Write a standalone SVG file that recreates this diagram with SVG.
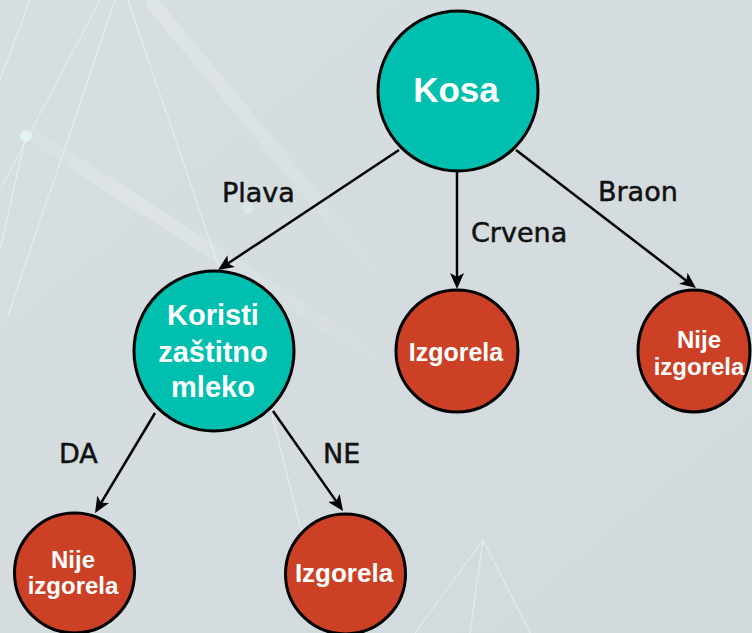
<svg xmlns="http://www.w3.org/2000/svg" width="752" height="633" viewBox="0 0 752 633">
  <defs>
    <linearGradient id="bg" x1="0" y1="0" x2="1" y2="1">
      <stop offset="0" stop-color="#d6dee1"/>
      <stop offset="1" stop-color="#d3dadd"/>
    </linearGradient>
    <linearGradient id="band" x1="0" y1="0" x2="1" y2="0">
      <stop offset="0" stop-color="#ffffff" stop-opacity="0.0"/>
      <stop offset="0.3" stop-color="#ffffff" stop-opacity="0.35"/>
      <stop offset="1" stop-color="#ffffff" stop-opacity="0.0"/>
    </linearGradient>
    <linearGradient id="band2" x1="0" y1="0" x2="1" y2="1">
      <stop offset="0" stop-color="#ffffff" stop-opacity="0.2"/>
      <stop offset="0.6" stop-color="#ffffff" stop-opacity="0.12"/>
      <stop offset="1" stop-color="#ffffff" stop-opacity="0.0"/>
    </linearGradient>
    <marker id="arr" viewBox="0 0 16 14" refX="10" refY="7" markerWidth="16" markerHeight="14" markerUnits="userSpaceOnUse" orient="auto">
      <path d="M0,0 L16,7 L0,14 L4,7 Z" fill="#000"/>
    </marker>
    <style>
      .deco { stroke: #eef8f7; fill: none; stroke-width: 1; opacity: 0.7; }
      .dec { fill: #111; stroke: #111; stroke-width: 0.5; font-family: "DejaVu Sans", sans-serif; font-size: 27px; }
      .edge { stroke: #000; stroke-width: 2.5; fill: none; marker-end: url(#arr); }
      .q { fill: #00bfae; stroke: #000; stroke-width: 3; }
      .leaf { fill: #cc4125; stroke: #000; stroke-width: 3; }
      .t { fill: #fff; font-family: "Liberation Sans", Arial, sans-serif; font-weight: bold; text-anchor: middle; }
    </style>
  </defs>

  <rect width="752" height="633" fill="url(#bg)"/>
  <g id="background">
    <path d="M0,115 L420,385" stroke="url(#band)" stroke-width="14" fill="none" opacity="0.6"/>
    <path d="M150,0 L390,290" stroke="url(#band2)" stroke-width="14" fill="none"/>
    <path class="deco" d="M30,0 L0,80"/>
    <path class="deco" d="M100,0 L0,190"/>
    <path class="deco" d="M115,0 L8,316"/>
    <path class="deco" d="M128,0 L218,265"/>
    <path class="deco" d="M0,250 L26,135"/>
    <circle cx="26" cy="136" r="6" fill="#e6fbf8" opacity="0.7"/>
    <circle cx="248" cy="208" r="6" fill="#e6fbf8" opacity="0.35"/>
    <path class="deco" d="M272,415 L320,605" opacity="0.35"/>
    <path class="deco" d="M483,540 L415,633 M483,540 L470,633 M483,540 L530,633" opacity="0.2"/>
  </g>

  <g id="connectors">
    <line class="edge" x1="399" y1="150" x2="223" y2="266.7"/>
    <line class="edge" x1="457" y1="172" x2="457" y2="283"/>
    <line class="edge" x1="516" y1="150" x2="691.2" y2="284.4"/>
    <line class="edge" x1="155" y1="413" x2="98.1" y2="507.9"/>
    <line class="edge" x1="273" y1="411" x2="339.6" y2="506.1"/>
  </g>

  <g id="edge-labels">
    <text class="dec" x="222" y="202">Plava</text>
    <text class="dec" x="471" y="242">Crvena</text>
    <text class="dec" x="598" y="201">Braon</text>
    <text class="dec" x="59" y="463">DA</text>
    <text class="dec" x="323" y="463">NE</text>
  </g>

  <g id="node-kosa">
    <circle class="q" cx="458" cy="91" r="80"/>
    <text class="t" x="456" y="102" font-size="35">Kosa</text>
  </g>

  <g id="node-koristi">
    <circle class="q" cx="214" cy="351" r="80"/>
    <text class="t" x="213" y="325" font-size="29">Koristi</text>
    <text class="t" x="213" y="362" font-size="29">zaštitno</text>
    <text class="t" x="213" y="397" font-size="29">mleko</text>
  </g>

  <g id="node-izgorela-1">
    <circle class="leaf" cx="457" cy="351" r="61"/>
    <text class="t" x="456" y="361" font-size="25">Izgorela</text>
  </g>

  <g id="node-nije-izgorela-1">
    <ellipse class="leaf" cx="694" cy="351" rx="56" ry="61"/>
    <text class="t" x="699" y="348" font-size="24">Nije</text>
    <text class="t" x="699" y="375" font-size="24">izgorela</text>
  </g>

  <g id="node-nije-izgorela-2">
    <circle class="leaf" cx="74.5" cy="573" r="60"/>
    <text class="t" x="73" y="568" font-size="24">Nije</text>
    <text class="t" x="73" y="594" font-size="24">izgorela</text>
  </g>

  <g id="node-izgorela-2">
    <circle class="leaf" cx="345.5" cy="574" r="60"/>
    <text class="t" x="344" y="582" font-size="26">Izgorela</text>
  </g>
</svg>
